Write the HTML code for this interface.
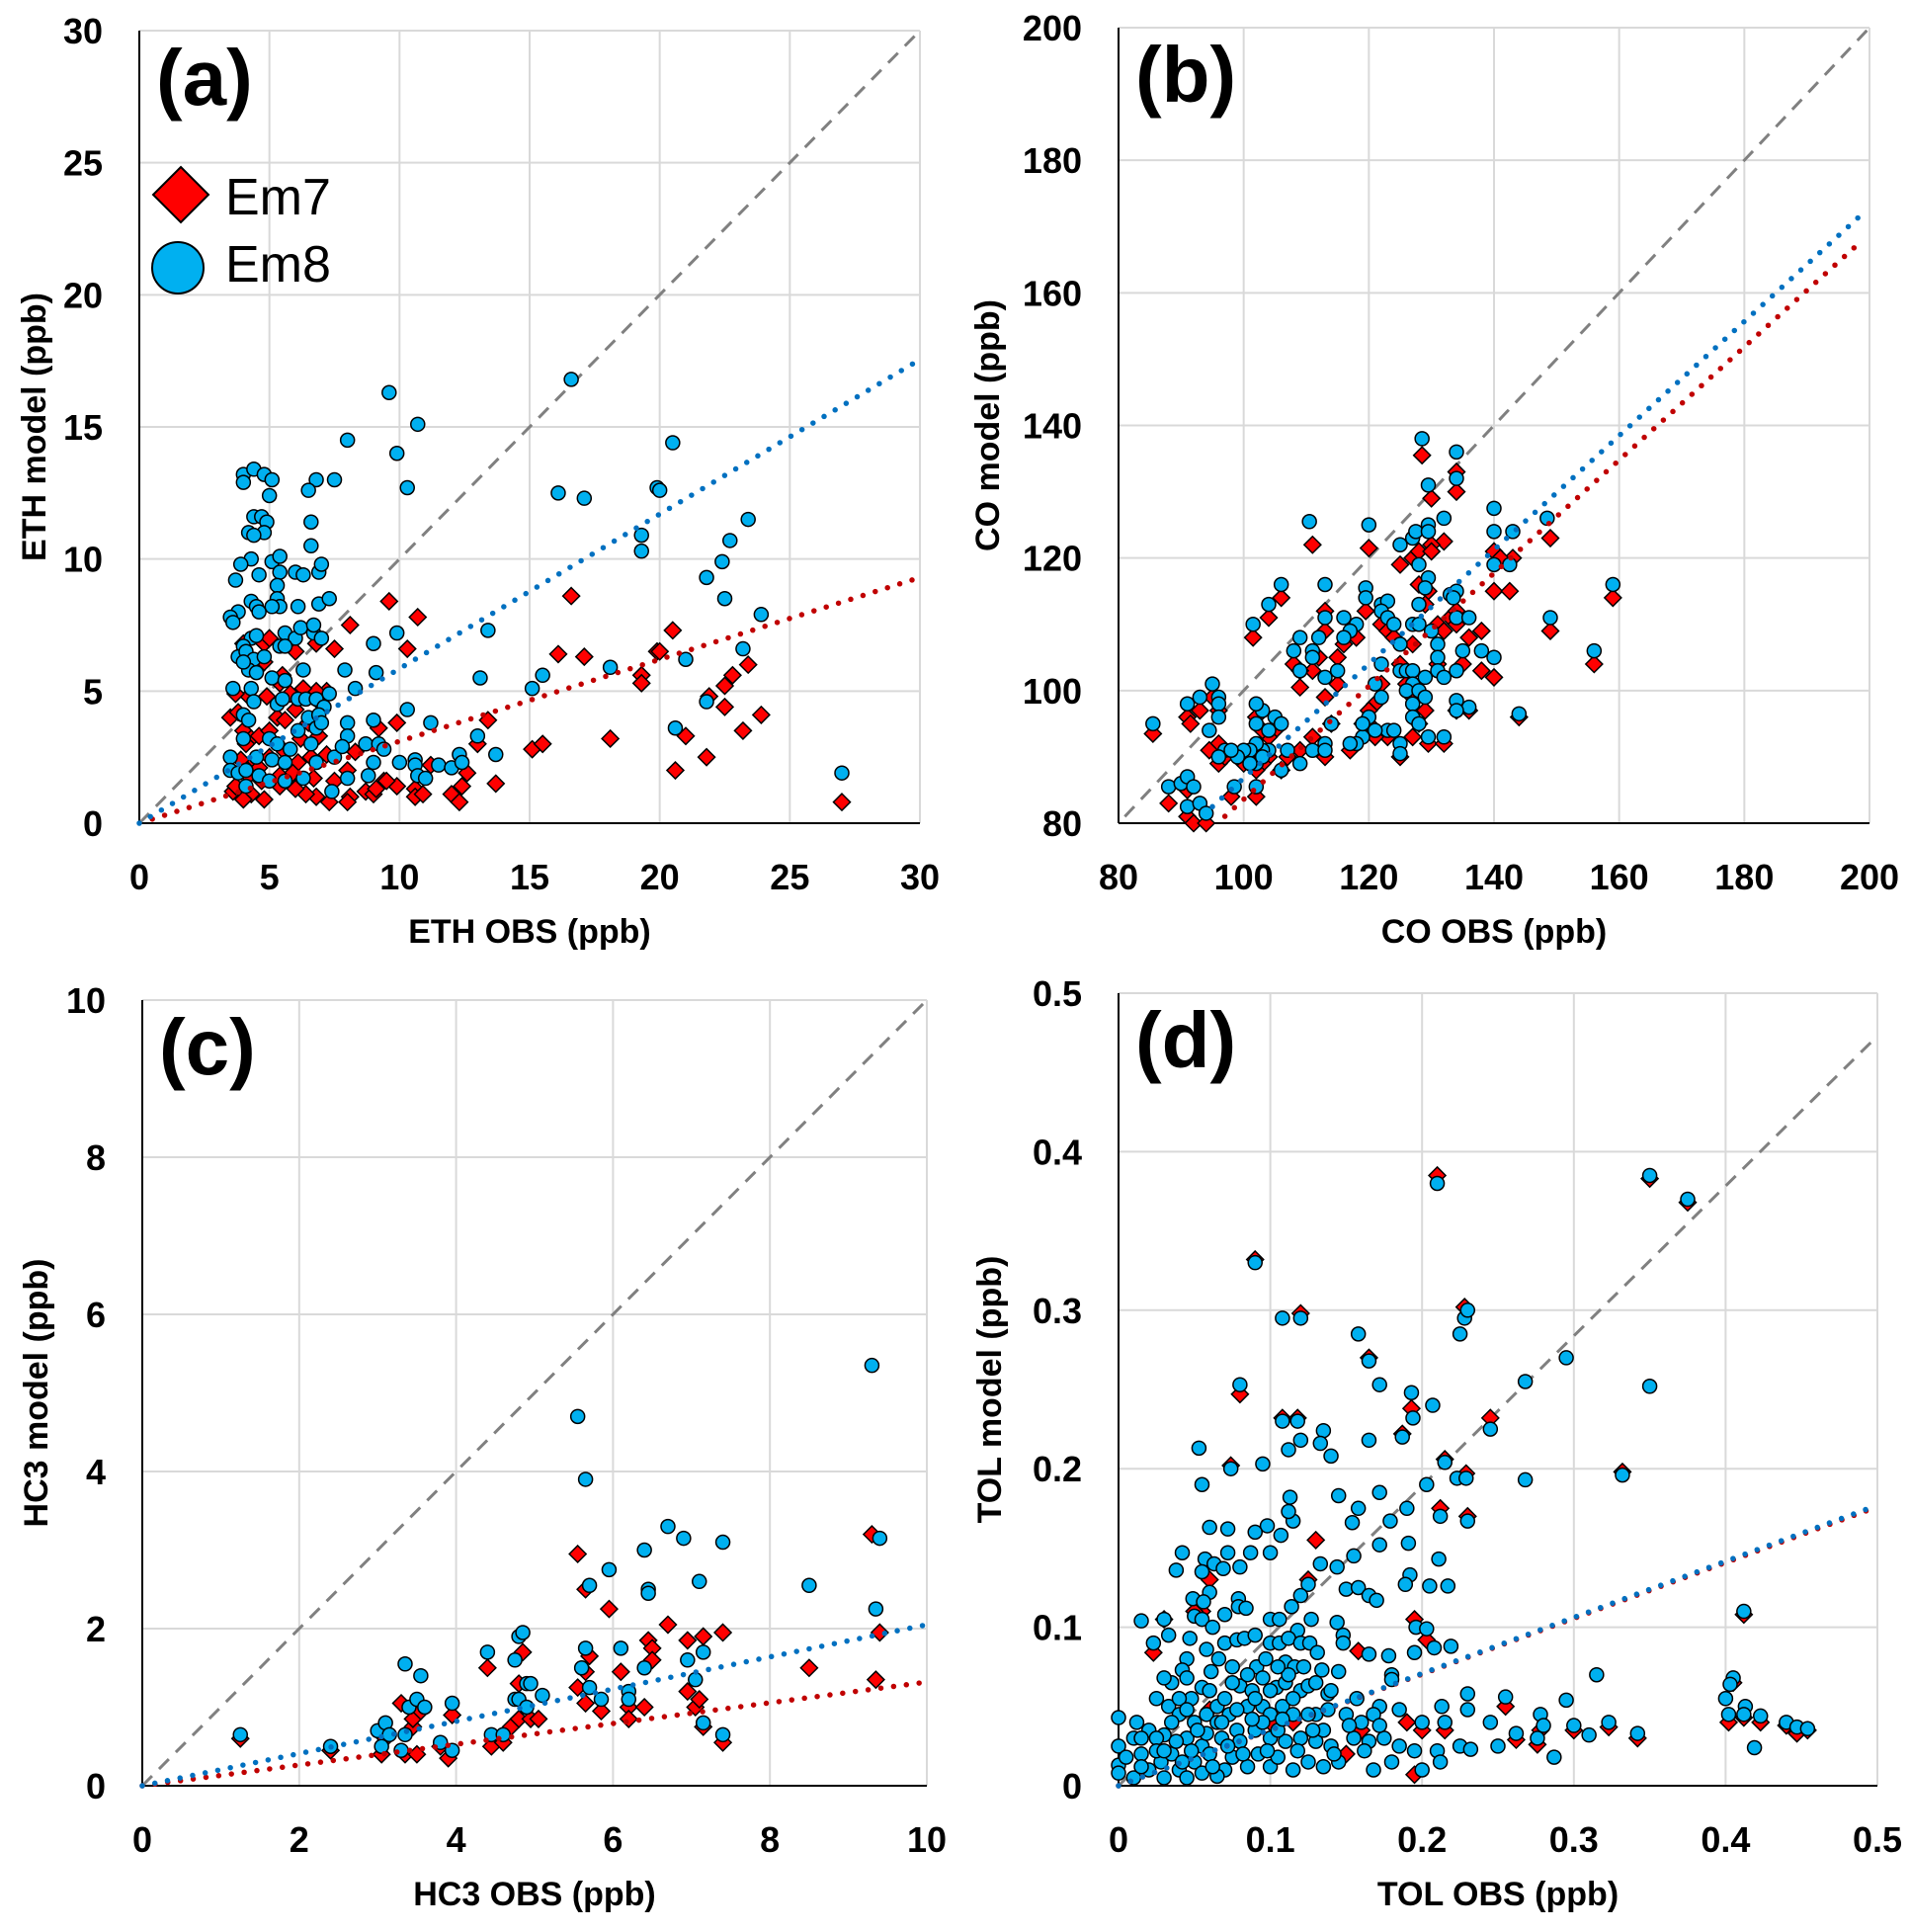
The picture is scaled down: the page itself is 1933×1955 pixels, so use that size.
<!DOCTYPE html>
<html><head><meta charset="utf-8">
<style>
html,body{margin:0;padding:0;background:#fff;}
svg{display:block;font-family:"Liberation Sans",Arial,sans-serif;}
</style></head>
<body>
<svg id="chart" width="1933" height="1955" viewBox="0 0 1933 1955" xmlns="http://www.w3.org/2000/svg"></svg>
<script>
// ---------- Panel (a) ETH ----------
const ethTicks=[0,5,10,15,20,25,30];
const ethEm8=[[9.6,16.3],[16.6,16.8],[10.7,15.1],[8,14.5],[9.9,14],[20.5,14.4],[10.3,12.7],[7.5,13],[6.8,13],[6.5,12.6],[4,13.2],[4,12.9],[4.4,13.4],[4.8,13.2],[5.1,13],[5.0,12.4],[4.4,11.6],[4.7,11.6],[4.9,11.4],[4.8,11],[4.2,11],[4.4,10.9],[6.6,11.4],[6.6,10.5],[4.3,10],[3.9,9.8],[5.1,9.9],[5.4,10.1],[3.7,9.2],[4.6,9.4],[5.4,9.5],[6.0,9.5],[6.3,9.4],[6.9,9.5],[7.0,9.8],[5.3,9.0],[5.3,8.5],[5.4,8.2],[4.3,8.4],[4.5,8.2],[4.6,8.0],[3.8,8.0],[5.1,8.2],[6.1,8.2],[6.9,8.3],[7.3,8.5],[3.5,7.8],[3.6,7.6],[5.6,7.2],[6.0,7.0],[6.2,7.4],[6.7,7.2],[6.7,7.5],[7.0,7.0],[4.3,7.0],[4.5,7.1],[4.0,6.7],[3.8,6.3],[4.1,6.5],[4.4,6.2],[4.2,5.8],[5.4,6.7],[5.6,6.7],[4.8,6.3],[4.0,6.1],[4.5,5.7],[5.1,5.5],[5.6,5.4],[6.3,5.8],[7.9,5.8],[9.1,5.7],[8.3,5.1],[3.6,5.1],[4.3,5.1],[4.4,4.6],[5.3,4.5],[5.5,4.7],[6.1,4.7],[6.4,4.7],[6.8,4.7],[7.3,4.9],[7.1,4.4],[6.5,4.0],[6.9,4.1],[4.0,4.1],[4.2,3.9],[8.0,3.8],[9.0,3.9],[10.3,4.3],[11.2,3.8],[6.1,3.5],[6.8,3.6],[7.0,3.8],[5.0,3.2],[5.3,3.0],[5.8,2.8],[6.6,3.0],[4.0,3.2],[8.0,3.3],[8.7,3.0],[9.2,3.0],[9.4,2.8],[3.5,2.5],[4.5,2.5],[5.1,2.4],[5.6,2.3],[6.8,2.3],[7.5,2.5],[7.8,2.9],[9.0,2.3],[10.0,2.3],[10.6,2.4],[10.6,2.2],[11.5,2.2],[12.0,2.1],[12.3,2.6],[12.4,2.3],[13.0,3.3],[13.7,2.6],[3.5,2.0],[3.8,1.9],[4.1,2.0],[4.6,1.8],[5.0,1.6],[5.6,1.6],[6.3,1.7],[7.4,1.2],[8.0,1.7],[8.8,1.8],[10.7,1.8],[11.0,1.7],[4.1,1.4],[13.1,5.5],[13.4,7.3],[15.1,5.1],[15.5,5.6],[16.1,12.5],[17.1,12.3],[18.1,5.9],[19.3,10.9],[19.3,10.3],[19.9,12.7],[20.0,12.6],[21.0,6.2],[20.6,3.6],[21.8,9.3],[22.4,9.9],[22.5,8.5],[22.7,10.7],[23.4,11.5],[23.2,6.6],[23.9,7.9],[21.8,4.6],[27.0,1.9],[9.0,6.8],[9.9,7.2]];
const ethEm7=[[16.6,8.6],[9.6,8.4],[10.7,7.8],[8.1,7.5],[7.5,6.6],[10.3,6.6],[6.8,6.8],[4,6.8],[4.8,6.8],[5.0,7.0],[6.0,6.5],[16.1,6.4],[17.1,6.3],[20.5,7.3],[19.9,6.5],[20.0,6.5],[19.3,5.6],[19.3,5.3],[23.4,6.0],[22.8,5.6],[22.5,5.2],[21.9,4.8],[22.5,4.4],[23.9,4.1],[23.2,3.5],[21.0,3.3],[20.6,2.0],[21.8,2.5],[18.1,3.2],[15.1,2.8],[15.5,3.0],[13.4,3.9],[13.0,3.0],[12.6,1.9],[13.7,1.5],[12.4,1.4],[12.0,1.1],[12.3,0.8],[10.6,1.3],[10.6,1.0],[10.9,1.1],[9.9,1.4],[9.9,3.8],[9.2,3.6],[8.0,2.0],[8.1,1.0],[8.0,0.8],[8.7,1.2],[9.0,1.1],[9.4,1.6],[9.1,1.3],[7.3,0.8],[6.8,1.0],[6.4,1.1],[6.0,1.3],[5.4,1.4],[4.8,0.9],[4.3,1.1],[4.0,0.9],[3.6,1.2],[3.5,4.0],[3.8,4.2],[4.0,3.5],[4.3,3.2],[4.6,3.3],[5.0,3.5],[5.3,4.0],[5.6,3.9],[6.0,4.3],[6.5,3.8],[7.0,4.5],[7.2,5.0],[6.8,5.0],[6.3,5.1],[5.8,4.9],[5.4,5.3],[4.9,4.8],[4.5,5.8],[4.8,6.1],[5.5,5.6],[4.2,4.8],[3.7,4.9],[4.4,2.4],[4.6,2.1],[5.0,2.5],[5.6,2.7],[6.1,2.3],[6.6,2.5],[7.2,2.6],[5.9,1.9],[5.4,1.8],[4.7,1.6],[4.2,1.8],[3.9,2.4],[3.7,1.4],[6.7,1.7],[7.5,1.6],[8.3,2.7],[27.0,0.8],[9.5,1.6],[11.2,2.2],[6.2,3.2],[6.9,3.3],[4.1,3.0]];
const ethTrend8=[0.585,0,0,30];   // slope, intercept, xStart, xEnd
const ethTrend7=[0.31,0,0.5,30];

// ---------- Panel (b) CO ----------
const coTicks=[80,100,120,140,160,180,200];
const coEm8=[[128.5,138],[134,136],[134,132],[129.5,131],[110.5,125.5],[120,125],[140,127.5],[132,126],[125,122],[127,123],[127.5,124],[129.5,125],[129.5,124],[128,119],[129.5,117],[129,115.5],[128,113],[130,109],[131,107],[131,105],[133,114.5],[134,115],[133.5,114],[134,111],[140,124],[143,124],[148.5,126],[140,119],[142.5,119],[106,116],[113,116],[119.5,115.5],[119.5,114],[122,113],[123,113.5],[122,112],[123,111],[124,110],[118,110],[116,111],[117,109],[113,111],[112,108],[104,113],[101.5,110],[109,108],[108,106],[111,106],[111,105],[116,108],[127,110],[128,110],[125,107],[122,104],[125,103],[126,103],[127,103],[129,102],[127,101],[126,100],[128,100],[127,98],[127,96],[128,95],[131,103],[132,102],[134,103],[135,106],[136,111],[138,106],[140,105],[149,111],[156,106],[159,116],[144,96.5],[136,97.5],[134,98.5],[134,97],[129.5,93],[132,93],[129,99],[125,92],[125,90.5],[123,94],[124,94],[121,94],[119,93],[118,92],[117,92],[120,96],[119,95],[122,99],[121,101],[115,103],[113,102],[114,95],[113,92],[111,91],[113,91],[109,89],[106,88],[107,91],[105,96],[106,95],[104,94],[103,97],[102,95],[104,91],[103,91],[102,92],[101,91],[100,91],[99,90],[102,89],[103,90],[101,89],[102,98],[98.5,85.5],[95,101],[96,99],[96,98],[96,96],[97,91],[98,91],[96,90],[91,98],[93,99],[94.5,94],[85.5,95],[88,85.5],[90,86],[91,87],[92,85.5],[91,82.5],[93,83],[94,81.5],[102,85.5],[109,103]];
const coEm7=[[128.5,135.5],[134,133],[134,130],[130,129],[111,122],[120,121.5],[140,121],[132,122.5],[125,119],[127,120],[128,121],[130,122],[130,121],[128,116],[129.5,115],[129,113],[131,110],[132,109],[133,111],[134,112],[134,110],[140,115],[142.5,115],[149,123],[143,120],[141,120],[106,114],[113,112],[119.5,112],[122,110],[123,109],[124,108],[118,108],[116,107],[113,109],[112,105],[104,111],[101.5,108],[109,100.5],[108,104],[111,103],[115,105],[127,107],[125,104],[122,101],[126,101],[127,99],[129,97],[128,95],[127,93],[131,104],[135,104],[136,108],[138,109],[138,103],[140,102],[149,109],[156,104],[159,114],[144,96],[136,97],[134,97],[129.5,92],[132,92],[125,90],[123,93],[121,93],[117,91],[120,95],[119,95],[121,98],[115,101],[113,99],[114,95],[113,90],[111,93],[109,91],[106,88],[107,90],[105,94],[104,93],[103,94],[102,96],[104,90],[103,89],[102,88],[101,90],[100,89],[99,90],[102,84],[98,84],[95,99],[96,97],[96,92],[96,89],[97,90],[91,96],[93,97],[91.5,95],[94.5,91],[85.5,93.5],[88,83],[91,85],[91,81],[92,80],[94,80],[109,103],[120,97]];
const coTrend8=[0.861,0.7,95,199];
const coTrend7=[0.853,-1.7,97,199];

// ---------- Panel (c) HC3 ----------
const hc3Ticks=[0,2,4,6,8,10];
const hc3Em8=[[1.25,0.65],[2.4,0.5],[3.0,0.7],[3.05,0.5],[3.1,0.8],[3.15,0.65],[3.35,1.55],[3.4,1.0],[3.35,0.65],[3.3,0.45],[3.5,1.1],[3.55,1.4],[3.6,1.0],[3.8,0.55],[3.95,0.45],[3.95,1.05],[4.4,1.7],[4.45,0.65],[4.6,0.65],[4.75,1.6],[4.75,1.1],[4.8,1.9],[4.85,1.95],[4.8,1.1],[4.9,1.3],[4.95,1.3],[4.9,1.0],[5.1,1.15],[5.55,4.7],[5.65,3.9],[5.7,2.55],[5.6,1.5],[5.65,1.75],[5.7,1.25],[5.85,1.1],[5.95,2.75],[6.1,1.75],[6.2,1.2],[6.2,1.1],[6.4,1.5],[6.4,3.0],[6.45,2.5],[6.45,2.45],[6.7,3.3],[6.9,3.15],[6.95,1.6],[7.05,1.35],[7.1,2.6],[7.15,1.7],[7.15,0.8],[7.4,3.1],[7.4,0.65],[8.5,2.55],[9.3,5.35],[9.35,2.25],[9.4,3.15]];
const hc3Em7=[[1.25,0.6],[2.4,0.45],[3.05,0.4],[3.1,0.6],[3.3,1.05],[3.35,0.4],[3.45,0.75],[3.5,0.4],[3.45,0.85],[3.55,0.95],[3.8,0.5],[3.9,0.35],[3.95,0.9],[4.4,1.5],[4.45,0.5],[4.6,0.55],[4.7,0.75],[4.8,0.85],[4.85,1.7],[4.8,1.3],[4.95,0.85],[5.05,0.85],[5.55,2.95],[5.55,1.25],[5.65,1.05],[5.65,2.5],[5.7,1.65],[5.65,1.45],[5.85,0.95],[5.95,2.25],[6.1,1.45],[6.2,1.0],[6.2,0.85],[6.4,1.0],[6.45,1.85],[6.5,1.75],[6.5,1.6],[6.7,2.05],[6.95,1.2],[6.95,1.85],[7.05,1.0],[7.1,1.1],[7.15,1.9],[7.15,0.75],[7.4,1.95],[7.4,0.55],[8.5,1.5],[9.3,3.2],[9.35,1.35],[9.4,1.95]];
const hc3Trend8=[0.205,0,0,10];
const hc3Trend7=[0.132,0,0,10];

// ---------- Panel (d) TOL ----------
const tolTicks=[0,0.1,0.2,0.3,0.4,0.5];
const tolTickLabels=["0","0.1","0.2","0.3","0.4","0.5"];
const tolEm7=[[0.21,0.385],[0.09,0.332],[0.12,0.298],[0.08,0.247],[0.165,0.27],[0.193,0.238],[0.228,0.302],[0.245,0.232],[0.108,0.232],[0.118,0.232],[0.187,0.222],[0.074,0.202],[0.215,0.206],[0.229,0.197],[0.332,0.198],[0.212,0.175],[0.23,0.17],[0.13,0.155],[0.125,0.13],[0.06,0.13],[0.055,0.11],[0.023,0.084],[0.203,0.092],[0.195,0.105],[0.158,0.085],[0.405,0.065],[0.402,0.04],[0.412,0.043],[0.423,0.04],[0.44,0.038],[0.447,0.033],[0.454,0.035],[0.412,0.108],[0.3,0.035],[0.323,0.037],[0.342,0.03],[0.278,0.035],[0.276,0.026],[0.255,0.05],[0.262,0.029],[0.215,0.035],[0.2,0.035],[0.195,0.007],[0.19,0.04],[0.16,0.035],[0.15,0.02],[0.115,0.04],[0.1,0.04],[0.06,0.048],[0.03,0.105],[0.05,0.11],[0.35,0.383],[0.375,0.368]];
const tolEm8=[[0.21,0.38],[0.35,0.385],[0.375,0.37],[0.09,0.33],[0.108,0.295],[0.12,0.295],[0.158,0.285],[0.225,0.285],[0.228,0.295],[0.23,0.3],[0.165,0.268],[0.295,0.27],[0.08,0.253],[0.172,0.253],[0.35,0.252],[0.268,0.255],[0.193,0.248],[0.207,0.24],[0.108,0.23],[0.118,0.23],[0.194,0.232],[0.245,0.225],[0.135,0.224],[0.187,0.22],[0.165,0.218],[0.12,0.218],[0.133,0.216],[0.112,0.212],[0.053,0.213],[0.14,0.208],[0.095,0.203],[0.074,0.2],[0.215,0.204],[0.203,0.19],[0.223,0.194],[0.229,0.194],[0.268,0.193],[0.332,0.196],[0.055,0.19],[0.145,0.183],[0.113,0.182],[0.172,0.185],[0.158,0.175],[0.19,0.175],[0.212,0.17],[0.23,0.167],[0.179,0.167],[0.115,0.167],[0.112,0.173],[0.154,0.166],[0.06,0.163],[0.072,0.162],[0.098,0.164],[0.09,0.16],[0.107,0.158],[0.172,0.152],[0.191,0.153],[0.042,0.147],[0.072,0.147],[0.087,0.147],[0.1,0.147],[0.155,0.145],[0.057,0.143],[0.063,0.14],[0.038,0.136],[0.08,0.138],[0.069,0.137],[0.133,0.14],[0.144,0.138],[0.211,0.143],[0.055,0.135],[0.192,0.133],[0.189,0.127],[0.205,0.126],[0.217,0.126],[0.15,0.124],[0.158,0.125],[0.165,0.12],[0.17,0.117],[0.125,0.127],[0.12,0.12],[0.114,0.113],[0.079,0.118],[0.079,0.113],[0.084,0.112],[0.049,0.118],[0.06,0.122],[0.056,0.116],[0.07,0.108],[0.015,0.104],[0.03,0.105],[0.05,0.107],[0.055,0.105],[0.062,0.1],[0.1,0.105],[0.106,0.105],[0.118,0.098],[0.144,0.103],[0.148,0.095],[0.127,0.105],[0.196,0.1],[0.203,0.099],[0.208,0.087],[0.219,0.088],[0.412,0.11],[0.023,0.09],[0.033,0.095],[0.047,0.093],[0.058,0.086],[0.07,0.09],[0.078,0.092],[0.083,0.093],[0.09,0.095],[0.1,0.09],[0.106,0.09],[0.112,0.093],[0.12,0.09],[0.126,0.09],[0.131,0.084],[0.148,0.09],[0.165,0.083],[0.178,0.082],[0.195,0.084],[0.045,0.08],[0.042,0.073],[0.045,0.068],[0.061,0.072],[0.066,0.08],[0.075,0.075],[0.091,0.075],[0.097,0.08],[0.11,0.078],[0.116,0.075],[0.134,0.073],[0.145,0.072],[0.18,0.07],[0.18,0.067],[0.315,0.07],[0.405,0.068],[0.403,0.064],[0.035,0.065],[0.03,0.068],[0.055,0.062],[0.06,0.06],[0.08,0.063],[0.088,0.06],[0.104,0.062],[0.11,0.065],[0.12,0.06],[0.125,0.063],[0.138,0.058],[0.14,0.06],[0.157,0.055],[0.172,0.05],[0.185,0.048],[0.213,0.05],[0.23,0.058],[0.255,0.056],[0.295,0.054],[0.4,0.055],[0.413,0.05],[0.012,0.04],[0.025,0.055],[0.033,0.05],[0.048,0.055],[0.04,0.045],[0.058,0.045],[0.065,0.05],[0.073,0.045],[0.085,0.05],[0.095,0.05],[0.1,0.045],[0.108,0.05],[0.115,0.045],[0.13,0.045],[0.15,0.045],[0.16,0.04],[0.168,0.045],[0.2,0.04],[0.215,0.04],[0.23,0.048],[0.245,0.04],[0.278,0.045],[0.28,0.038],[0.3,0.038],[0.323,0.04],[0.31,0.032],[0.342,0.033],[0.402,0.045],[0.412,0.045],[0.423,0.044],[0.44,0.04],[0.447,0.037],[0.454,0.036],[0.0,0.043],[0.01,0.03],[0.02,0.035],[0.03,0.032],[0.045,0.03],[0.055,0.025],[0.068,0.03],[0.078,0.035],[0.09,0.035],[0.1,0.03],[0.11,0.028],[0.12,0.03],[0.13,0.028],[0.14,0.025],[0.155,0.03],[0.165,0.028],[0.175,0.03],[0.185,0.025],[0.195,0.022],[0.21,0.022],[0.225,0.025],[0.232,0.023],[0.25,0.025],[0.262,0.033],[0.276,0.03],[0.287,0.018],[0.419,0.024],[0.0,0.025],[0.0,0.013],[0.0,0.008],[0.005,0.018],[0.015,0.02],[0.02,0.01],[0.028,0.015],[0.035,0.02],[0.04,0.01],[0.05,0.015],[0.055,0.008],[0.06,0.02],[0.07,0.01],[0.075,0.018],[0.085,0.012],[0.092,0.02],[0.1,0.012],[0.105,0.018],[0.115,0.01],[0.125,0.015],[0.135,0.012],[0.145,0.015],[0.168,0.01],[0.18,0.015],[0.2,0.01],[0.212,0.015],[0.01,0.005],[0.03,0.005],[0.045,0.005],[0.065,0.006],[0.025,0.03],[0.05,0.04],[0.065,0.04],[0.08,0.028],[0.09,0.055],[0.095,0.04],[0.105,0.035],[0.115,0.055],[0.125,0.045],[0.135,0.035],[0.04,0.055],[0.07,0.055],[0.085,0.07],[0.1,0.06],[0.112,0.07],[0.122,0.075],[0.015,0.012],[0.025,0.022],[0.038,0.028],[0.048,0.022],[0.058,0.033],[0.062,0.012],[0.072,0.025],[0.082,0.02],[0.088,0.042],[0.098,0.022],[0.108,0.042],[0.118,0.022],[0.128,0.035],[0.138,0.048],[0.142,0.02],[0.152,0.038],[0.162,0.022],[0.172,0.038],[0.035,0.04],[0.045,0.048],[0.075,0.065],[0.095,0.068],[0.105,0.075],[0.13,0.065],[0.015,0.03],[0.03,0.022],[0.042,0.015],[0.052,0.035],[0.068,0.04],[0.078,0.048]];
const tolTrend8=[0.354,0,0,0.5];
const tolTrend7=[0.352,0,0,0.5];

const NS="http://www.w3.org/2000/svg";
const svg=document.getElementById('chart');
function mk(tag,attrs,parent,text){
  const e=document.createElementNS(NS,tag);
  for(const k in attrs) e.setAttribute(k,attrs[k]);
  if(text!==undefined) e.textContent=text;
  (parent||svg).appendChild(e);
  return e;
}

function panel(cfg){
  const g=mk('g',{});
  
  
  const [L,R,T,B]=cfg.box;
  const [x0,x1]=cfg.xr, [y0,y1]=cfg.yr;
  const sx=v=>L+(v-x0)/(x1-x0)*(R-L);
  const sy=v=>B-(v-y0)/(y1-y0)*(B-T);
  cfg.ticks.forEach(t=>{
    if(t!==x0){const l=mk('line',{x1:sx(t),x2:sx(t),y1:T,y2:B,stroke:'#d9d9d9','stroke-width':2},g);
      }
    if(t!==y0){const l=mk('line',{x1:L,x2:R,y1:sy(t),y2:sy(t),stroke:'#d9d9d9','stroke-width':2},g);
      }
  });
  const ya=mk('line',{x1:L,x2:L,y1:T,y2:B,stroke:'#000','stroke-width':2},g);
  
  const xa=mk('line',{x1:L,x2:R,y1:B,y2:B,stroke:'#000','stroke-width':2},g);
  
  cfg.ticks.forEach((t,i)=>{
    const lab=cfg.labels?cfg.labels[i]:String(t);
    const a=mk('text',{x:sx(t),y:B+67,'text-anchor':'middle','font-size':36,'font-weight':'bold'},g,lab);
    
    const b=mk('text',{x:L-37,y:sy(t)+13,'text-anchor':'end','font-size':36,'font-weight':'bold'},g,lab);
    
  });
  const xt=mk('text',{x:(L+R)/2,y:B+121,'text-anchor':'middle','font-size':34,'font-weight':'bold'},g,cfg.xtitle);
  
  const cy=(T+B)/2, cx=cfg.ytx;
  const yt=mk('text',{x:cx,y:cy,'text-anchor':'middle','font-size':34,'font-weight':'bold',transform:`rotate(-90 ${cx} ${cy})`},g,cfg.ytitle);
  
  const pl=mk('text',{x:L+17,y:T+75,'font-size':80,'font-weight':'bold'},g,'('+cfg.id+')');
  
  const d=mk('line',{x1:sx(cfg.diag[0]),y1:sy(cfg.diag[1]),x2:sx(cfg.diag[2]),y2:sy(cfg.diag[3]),stroke:'#808080','stroke-width':3,'stroke-dasharray':'14 10'},g);
  
  cfg.em7.forEach(p=>{
    const x=sx(p[0]),y=sy(p[1]),h=8.5;
    const m=mk('polygon',{points:`${x},${y-h} ${x+h},${y} ${x},${y+h} ${x-h},${y}`,fill:'#ff0000',stroke:'#000','stroke-width':1.5},g);
    
  });
  cfg.em8.forEach(p=>{
    const m=mk('circle',{cx:sx(p[0]),cy:sy(p[1]),r:7,fill:'#00b0f0',stroke:'#000','stroke-width':1.5},g);
    
  });
  [[cfg.tr7,'#c00000','em7-trendline'],[cfg.tr8,'#0070c0','em8-trendline']].forEach(([tr,col,nm])=>{
    const l=mk('line',{x1:sx(tr[2]),y1:sy(tr[0]*tr[2]+tr[1]),x2:sx(tr[3]),y2:sy(tr[0]*tr[3]+tr[1]),stroke:col,'stroke-width':5.5,'stroke-linecap':'round','stroke-dasharray':'0 13'},g);
    
  });
  return g;
}

panel({id:'a',box:[141,931,31,833],xr:[0,30],yr:[0,30],ticks:ethTicks,xtitle:'ETH OBS (ppb)',ytitle:'ETH model (ppb)',ytx:46,diag:[0,0,30,30],em7:ethEm7,em8:ethEm8,tr7:ethTrend7,tr8:ethTrend8});
panel({id:'b',box:[1132,1892,28,833],xr:[80,200],yr:[80,200],ticks:coTicks,xtitle:'CO OBS (ppb)',ytitle:'CO model (ppb)',ytx:1011,diag:[81,81,200,200],em7:coEm7,em8:coEm8,tr7:coTrend7,tr8:coTrend8});
panel({id:'c',box:[144,938,1012,1807],xr:[0,10],yr:[0,10],ticks:hc3Ticks,xtitle:'HC3 OBS (ppb)',ytitle:'HC3 model (ppb)',ytx:48,diag:[0,0,10,10],em7:hc3Em7,em8:hc3Em8,tr7:hc3Trend7,tr8:hc3Trend8});
panel({id:'d',box:[1132,1900,1005,1807],xr:[0,0.5],yr:[0,0.5],ticks:tolTicks,labels:tolTickLabels,xtitle:'TOL OBS (ppb)',ytitle:'TOL model (ppb)',ytx:1013,diag:[0,0,0.5,0.473],em7:tolEm7,em8:tolEm8,tr7:tolTrend7,tr8:tolTrend8});

const lg=mk('g',{});


const ld=mk('polygon',{points:'183,169 211,197 183,225 155,197',fill:'#ff0000',stroke:'#000','stroke-width':2},lg);


const lt1=mk('text',{x:228,y:217,'font-size':52},lg,'Em7');


const lc=mk('circle',{cx:180,cy:271,r:26,fill:'#00b0f0',stroke:'#000','stroke-width':2},lg);


const lt2=mk('text',{x:228,y:285,'font-size':52},lg,'Em8');


</script>
</body></html>
